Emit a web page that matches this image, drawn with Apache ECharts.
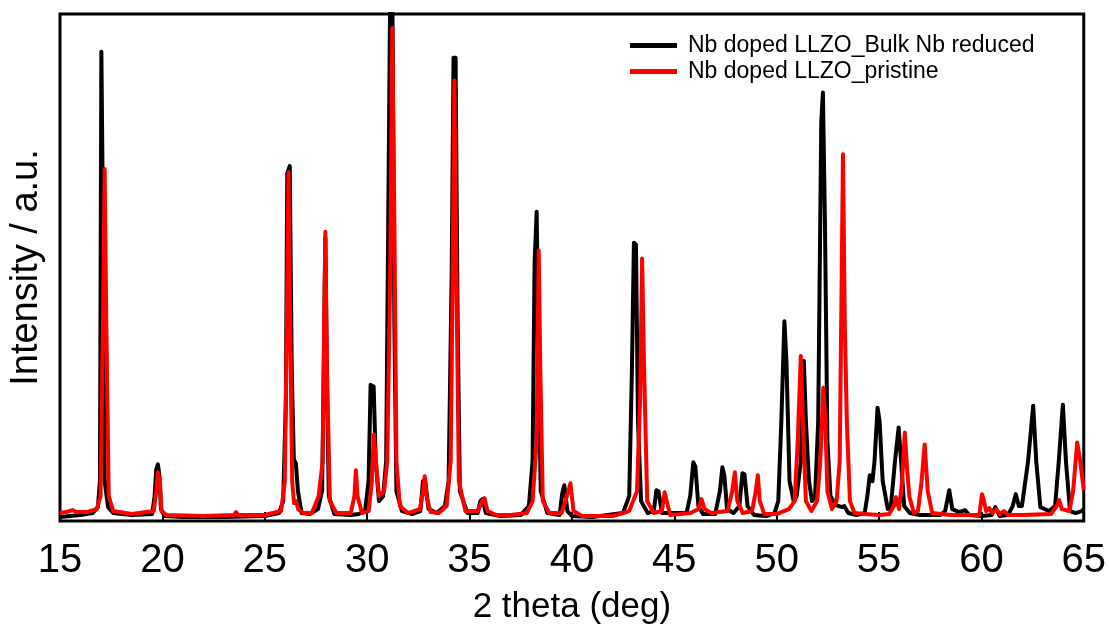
<!DOCTYPE html>
<html>
<head>
<meta charset="utf-8">
<script src="https://cdn.jsdelivr.net/npm/echarts@6/dist/echarts.min.js"></script>
<style>html,body{margin:0;padding:0;background:#fff;}#c{width:1109px;height:630px;}</style>
</head>
<body>
<div id="c"></div>
<script>
// X tick values (2 theta, deg)
const xTicks = [15, 20, 25, 30, 35, 40, 45, 50, 55, 60, 65];
const seriesNames = ['Nb doped LLZO_Bulk Nb reduced', 'Nb doped LLZO_pristine'];

// [2theta, intensity] — Bulk Nb reduced (black)
const reducedData = [
[15,4],[15.5,5],[16,6],[16.6,8],[16.85,14],[16.95,40],[17.02,472],[17.1,300],[17.18,40],[17.35,14],[17.6,8],[18.5,6],
[19.5,7],[19.62,25],[19.7,52],[19.78,57],[19.86,45],[19.93,12],[20.1,5],[21,4],[23,4],[25,5],[25.7,8],[25.9,20],
[26.03,120],[26.1,350],[26.22,357],[26.32,150],[26.42,62],[26.52,58],[26.62,30],[26.8,8],[27.2,7],[27.6,12],[27.8,30],
[27.88,150],[27.96,285],[28.03,150],[28.13,25],[28.4,7],[29.2,6],[29.6,7],[29.9,10],[30.07,40],[30.17,137],[30.32,135],
[30.42,60],[30.58,20],[30.78,25],[30.93,60],[31.03,300],[31.13,540],[31.23,540],[31.33,200],[31.43,30],[31.7,10],[32.2,7],
[32.6,10],[32.73,40],[32.83,42],[33.0,12],[33.4,8],[33.8,15],[33.98,40],[34.13,250],[34.22,466],[34.32,466],[34.42,200],
[34.53,30],[34.9,8],[35.4,8],[35.53,20],[35.63,22],[35.8,8],[36.5,5],[37.5,6],[37.9,15],[38.08,60],[38.18,260],[38.28,311],
[38.38,150],[38.48,30],[38.8,8],[39.4,6],[39.53,28],[39.63,36],[39.78,10],[40,5],[41,4],[42.5,8],[42.8,25],[42.93,150],
[43.03,280],[43.13,278],[43.23,100],[43.38,20],[43.7,8],[44.0,10],[44.13,31],[44.23,30],[44.4,8],[44.7,8],[45.6,8],
[45.78,25],[45.93,59],[46.03,55],[46.18,15],[46.4,7],[47.0,7],[47.23,30],[47.35,54],[47.45,45],[47.58,12],[47.9,8],
[48.18,15],[48.33,48],[48.43,47],[48.58,15],[48.9,6],[49.5,5],[49.9,8],[50.08,20],[50.23,100],[50.38,201],[50.48,160],
[50.63,40],[50.83,20],[50.98,25],[51.18,60],[51.33,161],[51.43,100],[51.58,40],[51.73,20],[51.88,25],[52.03,100],[52.18,401],
[52.26,431],[52.36,300],[52.48,80],[52.63,25],[52.9,16],[53.2,14],[53.3,15],[53.5,8],[53.9,6],[54.3,8],[54.43,25],
[54.55,46],[54.68,40],[54.78,60],[54.93,114],[55.03,100],[55.18,40],[55.43,12],[55.58,15],[55.78,60],[55.96,94],[56.08,60],
[56.23,15],[56.5,8],[57.0,6],[58.0,6],[58.23,10],[58.43,31],[58.58,12],[58.9,9],[59.2,11],[59.4,6],[60.0,5],[60.5,6],
[60.68,14],[60.9,5],[61.3,6],[61.53,15],[61.68,27],[61.83,15],[61.98,15],[62.28,60],[62.53,116],[62.68,60],[62.88,14],
[63.3,10],[63.6,15],[63.78,60],[63.98,117],[64.13,60],[64.33,10],[64.6,8],[64.9,10],[65,12]
];

// [2theta, intensity] — pristine (red)
const pristineData = [
[15,8],[15.3,9],[15.6,11],[15.8,9],[16.3,9],[16.8,12],[16.98,25],[17.1,200],[17.18,354],[17.26,200],[17.38,25],[17.6,10],
[18.5,7],[19.58,10],[19.7,30],[19.78,49],[19.88,40],[19.96,10],[20.2,6],[22,5],[23.5,6],[23.6,9],[23.7,6],[25,6],
[25.8,10],[25.98,40],[26.08,200],[26.16,351],[26.24,200],[26.34,40],[26.43,18],[26.53,20],[26.63,12],[26.9,8],[27.3,8],
[27.63,25],[27.83,60],[27.9,200],[27.96,291],[28.04,150],[28.18,20],[28.5,8],[29.2,8],[29.38,25],[29.45,51],[29.53,25],
[29.75,8],[30.08,10],[30.23,40],[30.33,87],[30.43,60],[30.58,25],[30.83,30],[30.98,60],[31.13,250],[31.23,496],[31.33,300],
[31.43,60],[31.6,15],[32.0,8],[32.58,12],[32.73,30],[32.81,45],[32.9,25],[33.1,9],[33.5,8],[33.88,15],[34.08,60],
[34.18,250],[34.26,443],[34.36,250],[34.48,40],[34.8,10],[35.4,10],[35.58,18],[35.73,23],[35.88,10],[36.3,6],[37.0,6],
[37.8,8],[38.08,20],[38.28,80],[38.38,272],[38.46,150],[38.58,20],[38.9,8],[39.5,8],[39.83,30],[39.93,38],[40.08,10],
[40.5,5],[42.0,5],[42.8,10],[43.18,30],[43.33,120],[43.43,264],[43.53,150],[43.68,20],[44.0,8],[44.4,10],[44.53,29],
[44.63,20],[44.8,6],[45.8,8],[46.18,12],[46.33,22],[46.48,12],[46.8,8],[47.6,10],[47.83,30],[47.96,49],[48.08,20],
[48.35,8],[48.8,10],[48.98,30],[49.08,46],[49.18,20],[49.4,7],[50,7],[50.6,12],[50.88,20],[51.03,80],[51.18,166],[51.28,100],
[51.43,20],[51.7,10],[51.98,20],[52.13,60],[52.28,134],[52.38,100],[52.48,30],[52.7,12],[52.93,20],[53.08,60],[53.18,250],
[53.24,369],[53.33,196],[53.43,100],[53.58,20],[53.8,8],[54.3,7],[55,6],[55.5,7],[55.73,15],[55.83,24],[55.98,12],
[56.13,40],[56.26,89],[56.38,50],[56.48,25],[56.7,8],[56.9,10],[57.08,40],[57.23,77],[57.38,30],[57.6,8],[58.5,6],[59.9,6],
[60.03,27],[60.13,20],[60.23,10],[60.38,13],[60.53,8],[60.73,12],[60.9,7],[61.1,10],[61.3,6],[62,6],[63.4,7],[63.68,15],
[63.8,21],[63.93,12],[64.3,10],[64.48,30],[64.68,79],[64.83,60],[65,31]
];

const chart = echarts.init(document.getElementById('c'), null, {renderer: 'canvas'});
const labelFont = "'Liberation Sans', Arial, sans-serif";
chart.setOption({
  animation: false,
  backgroundColor: '#fff',
  grid: {left: 56, right: 25, top: 14, bottom: 105, show: true, borderColor: '#000', borderWidth: 3, containLabel: false},
  legend: {
    orient: 'vertical', left: 625, top: 29, itemWidth: 47, itemHeight: 14, itemGap: 3,
    icon: 'path://M0,0 L46,0 L46,5 L0,5 Z',
    textStyle: {fontFamily: labelFont, fontSize: 23, color: '#000', padding: [0, 0, 0, 6]},
    data: seriesNames
  },
  xAxis: {
    type: 'value', min: xTicks[0], max: xTicks[xTicks.length - 1], interval: 5,
    axisLine: {show: false},
    axisTick: {show: true, inside: true, length: 9, lineStyle: {color: '#000', width: 2}},
    splitLine: {show: false},
    axisLabel: {fontFamily: labelFont, fontSize: 40, color: '#000', margin: 20},
    name: '2 theta (deg)', nameLocation: 'middle', nameGap: 69,
    nameTextStyle: {fontFamily: labelFont, fontSize: 35, color: '#000'}
  },
  yAxis: {
    type: 'value', min: 0, max: 510,
    axisLine: {show: false}, axisTick: {show: false}, axisLabel: {show: false}, splitLine: {show: false},
    name: 'Intensity / a.u.', nameLocation: 'middle', nameGap: 14,
    nameTextStyle: {fontFamily: labelFont, fontSize: 38, color: '#000'}
  },
  series: [
    {name: seriesNames[0], type: 'line', data: reducedData, symbol: 'none', clip: true,
     lineStyle: {color: '#000', width: 4, join: 'round'}, itemStyle: {color: '#000'}},
    {name: seriesNames[1], type: 'line', data: pristineData, symbol: 'none', clip: true,
     lineStyle: {color: '#ff0000', width: 4, join: 'round'}, itemStyle: {color: '#ff0000'}}
  ]
});
</script>
</body>
</html>
